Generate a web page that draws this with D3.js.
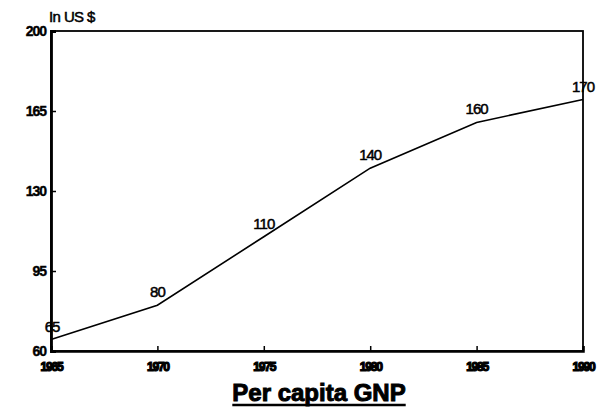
<!DOCTYPE html>
<html><head><meta charset="utf-8">
<script src="https://cdn.jsdelivr.net/npm/d3@7"></script>
<style>body{margin:0;background:#fff}svg{display:block}</style>
</head><body>
<script>
const years = [1965, 1970, 1975, 1980, 1985, 1990];
const gnp = [65, 80, 110, 140, 160, 170];
const yTicks = [60, 95, 130, 165, 200];
const title = "Per capita GNP";
const unit = "In US $";

const W = 599, H = 408;
const m = {left: 51, right: 16, top: 31, bottom: 57};
const svg = d3.select("body").append("svg").attr("width", W).attr("height", H);
const x = d3.scaleLinear().domain([1965, 1990]).range([m.left, W - m.right]);
const y = d3.scaleLinear().domain([60, 200]).range([H - m.bottom, m.top]);
const font = "Liberation Sans, Arial, sans-serif";

// frame
svg.append("rect").attr("x", m.left).attr("y", m.top)
  .attr("width", W - m.right - m.left).attr("height", H - m.bottom - m.top)
  .attr("fill", "none").attr("stroke", "#000").attr("stroke-width", 1.8);

const yAxis = svg.append("g").attr("transform", `translate(${m.left},0)`)
  .call(d3.axisRight(y).tickValues(yTicks).tickSize(5).tickFormat(d3.format("d")));
yAxis.select(".domain").attr("stroke-width", 2.8);
yAxis.selectAll("line").attr("stroke-width", 1.5);
yAxis.selectAll("text").attr("x", -5).attr("text-anchor", "end")
  .attr("font-family", font).attr("font-size", 14)
  .attr("font-weight", "bold").attr("letter-spacing", -1).attr("fill", "#000")
  .attr("stroke", "#000").attr("stroke-width", 0.4);

const xAxis = svg.append("g").attr("transform", `translate(0,${H - m.bottom})`)
  .call(d3.axisTop(x).tickValues(years).tickSize(5).tickFormat(d3.format("d")));
xAxis.select(".domain").attr("stroke-width", 2.5);
xAxis.selectAll("line").attr("stroke-width", 1.5);
xAxis.selectAll("text").attr("y", 20).attr("dy", 0)
  .attr("font-family", font).attr("font-size", 12)
  .attr("font-weight", "900").attr("letter-spacing", -1.2).attr("fill", "#000")
  .attr("stroke", "#000").attr("stroke-width", 1.2);

const pts = years.map((yr, i) => [yr, gnp[i]]);
svg.append("path").datum(pts)
  .attr("d", d3.line().x(d => x(d[0])).y(d => y(d[1])))
  .attr("fill", "none").attr("stroke", "#000").attr("stroke-width", 1.6);

svg.selectAll(".lbl").data(pts).enter().append("text")
  .attr("x", d => x(d[0]) + (d[0] === 1965 ? 1 : 0))
  .attr("y", d => y(d[1]) - 8)
  .attr("text-anchor", "middle")
  .attr("font-family", font).attr("font-size", 15)
  .attr("letter-spacing", -1).attr("fill", "#000")
  .attr("stroke", "#000").attr("stroke-width", 0.5)
  .text(d => d[1]);

svg.append("text").attr("x", 49).attr("y", 22)
  .attr("font-family", font).attr("font-size", 15)
  .attr("letter-spacing", -0.6).attr("fill", "#000")
  .attr("stroke", "#000").attr("stroke-width", 0.5).text(unit);

const t = svg.append("text").attr("x", 319).attr("y", 401).attr("text-anchor", "middle")
  .attr("font-family", font).attr("font-size", 24)
  .attr("font-weight", "bold").attr("fill", "#000").attr("stroke", "#000").attr("stroke-width", 1)
  .text(title);
const bb = t.node().getBBox();
svg.append("line").attr("x1", bb.x).attr("x2", bb.x + bb.width)
  .attr("y1", 405).attr("y2", 405).attr("stroke", "#000").attr("stroke-width", 2.5);
</script>
</body></html>
